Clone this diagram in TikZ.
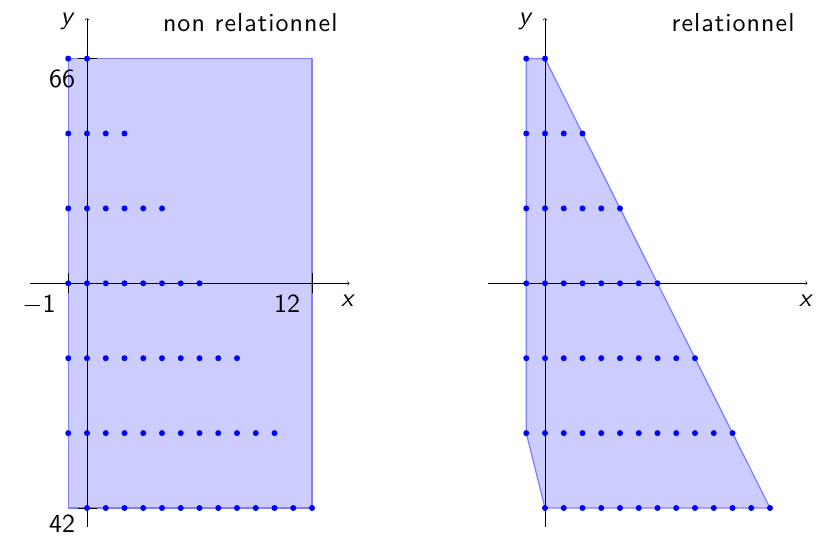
\documentclass[tikz,border=0pt]{standalone}
\usepackage{fontspec}
\newfontfamily\ttlfont{lmsans10-regular.otf}[LetterSpace=4]
\begin{document}
\begin{tikzpicture}[x=18.75pt,y=74.9pt,>=to,
  dot/.style={fill=blue,circle,inner sep=0pt,minimum size=6pt},
  region/.style={fill=blue!20,draw=blue!50,line width=1.3pt,line join=round},
  axisline/.style={line width=0.6pt,->},
  tick/.style={line width=0.6pt},
  lbl/.style={font=\fontsize{10}{12}\selectfont\sffamily,inner sep=0pt,scale=2.6},
  ttl/.style={font=\fontsize{10}{12}\selectfont\ttlfont,inner sep=0pt,scale=2.6},
  var/.style={font=\fontsize{10}{12}\selectfont\sffamily\slshape,inner sep=0pt,scale=2.6}]
\useasboundingbox (-87pt,-253.7pt) rectangle (731pt,283.3pt);
% ---------- left panel ----------
\begin{scope}
  \filldraw[region] (-1,-3) rectangle (12,3);
  \coordinate (Lxa) at (-3.03,0); \coordinate (Lxb) at (14,0);
  \coordinate (Lya) at (0,-3.25); \coordinate (Lyb) at (0,3.54);
  \draw[axisline] (Lxa) -- (Lxb);
  \draw[axisline] (Lya) -- (Lyb);
  \draw[tick] (-1,0) ++(0,-10pt) -- ++(0,20pt);
  \draw[tick] (12,0) ++(0,-10pt) -- ++(0,20pt);
  \draw[tick] (0,3) ++(-9.5pt,0) -- ++(19pt,0);
  \draw[tick] (0,-3) ++(-9.5pt,0) -- ++(19pt,0);
  \foreach \r in {3,2,1,0,-1,-2}{
    \pgfmathtruncatemacro{\xm}{2*(3-\r)}
    \foreach \i in {-1,...,\xm}{\node[dot] at (\i,\r) {};}}
  \foreach \i in {0,...,12}{\node[dot] at (\i,-3) {};}
  \node[var,anchor=base] (Ly) at (-20.3pt,258.5pt) {y};
  \node[var,anchor=base] (Lx) at (260pt,-23.7pt) {x};
  \node[ttl,anchor=base east] (Ltitle) at (251pt,251.6pt) {non relationnel};
  \node[lbl,anchor=base] (L66) at (-25pt,195.3pt) {66};
  \node[lbl,anchor=base] (L42) at (-25pt,-249pt) {42};
  \node[lbl,anchor=base] (Lm1) at (-48pt,-29.7pt) {$-$1};
  \node[lbl,anchor=base] (L12) at (200pt,-29.7pt) {12};
\end{scope}
% ---------- right panel ----------
\begin{scope}[xshift=458pt]
  \filldraw[region] (-1,3) -- (0,3) -- (12,-3) -- (0,-3) -- (-1,-2) -- cycle;
  \coordinate (Rxa) at (-3.03,0); \coordinate (Rxb) at (14,0);
  \coordinate (Rya) at (0,-3.25); \coordinate (Ryb) at (0,3.54);
  \draw[axisline] (Rxa) -- (Rxb);
  \draw[axisline] (Rya) -- (Ryb);
  \foreach \r in {3,2,1,0,-1,-2}{
    \pgfmathtruncatemacro{\xm}{2*(3-\r)}
    \foreach \i in {-1,...,\xm}{\node[dot] at (\i,\r) {};}}
  \foreach \i in {0,...,12}{\node[dot] at (\i,-3) {};}
  \node[var,anchor=base] (Ry) at (-20.3pt,258.5pt) {y};
  \node[var,anchor=base] (Rx) at (260pt,-23.7pt) {x};
  \node[ttl,anchor=base east] (Rtitle) at (250pt,251.6pt) {relationnel};
\end{scope}
\end{tikzpicture}
\end{document}
